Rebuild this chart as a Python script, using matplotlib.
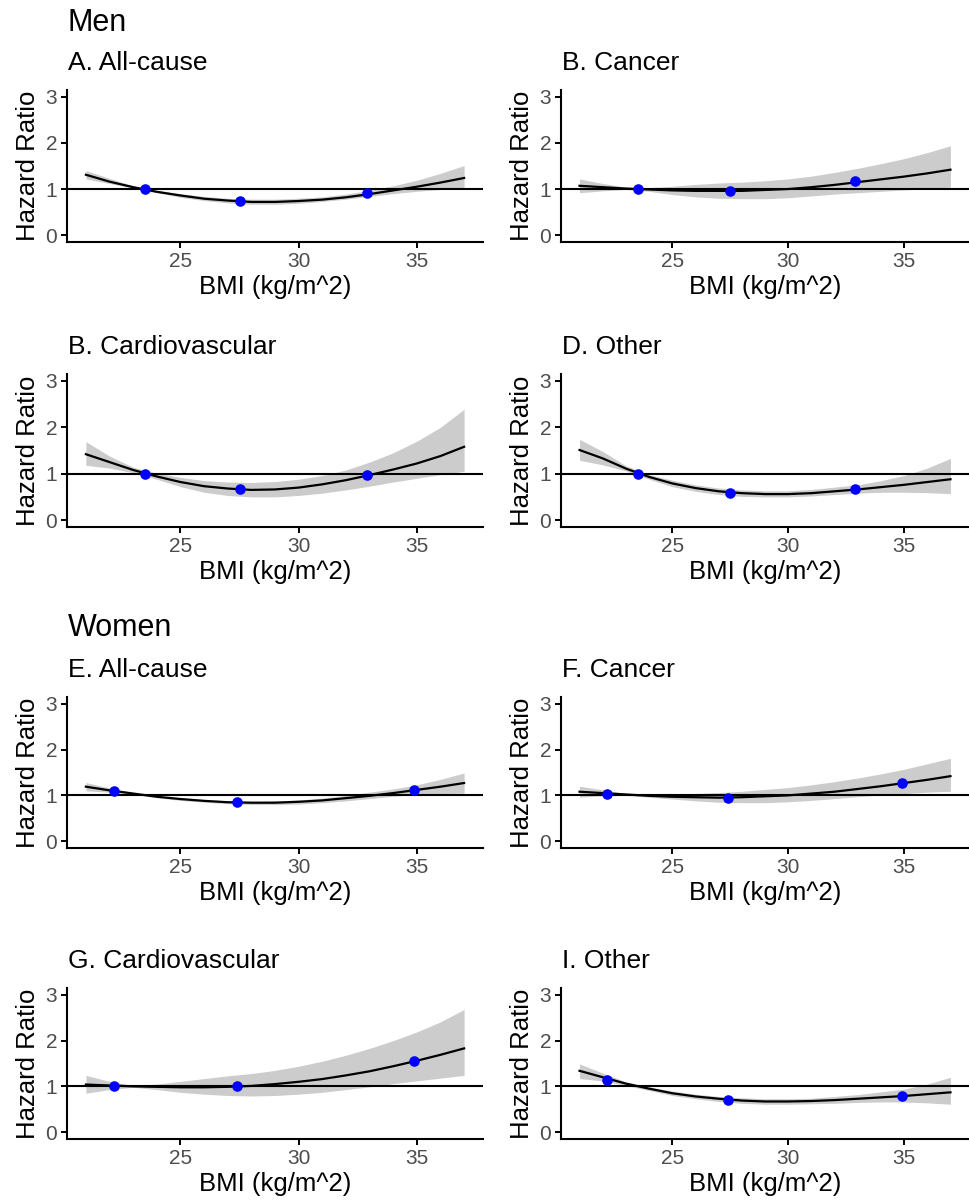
import matplotlib
matplotlib.use('Agg')
import matplotlib.pyplot as plt
import numpy as np

plt.rcParams['font.family'] = ['Liberation Sans', 'DejaVu Sans']

# BMI grid for the fitted curves
bmi = [21, 22, 23, 24, 25, 26, 27, 28, 29, 30, 31, 32, 33, 34, 35, 36, 37]

# category midpoints (blue dots)
men_pts_x = [23.5, 27.5, 32.9]
women_pts_x = [22.2, 27.4, 34.9]

# A. Men all-cause
a_hr = [1.31, 1.16, 1.04, 0.94, 0.86, 0.79, 0.75, 0.72, 0.72, 0.74, 0.77, 0.82, 0.89, 0.97, 1.05, 1.14, 1.24]
a_lo = [1.22, 1.12, 1.02, 0.92, 0.82, 0.75, 0.70, 0.67, 0.67, 0.69, 0.73, 0.78, 0.84, 0.90, 0.95, 0.99, 1.03]
a_hi = [1.40, 1.23, 1.07, 0.97, 0.90, 0.84, 0.80, 0.78, 0.78, 0.80, 0.83, 0.89, 0.97, 1.07, 1.19, 1.34, 1.51]
a_pts = [1.00, 0.73, 0.91]

# B. Men cancer
b_hr = [1.07, 1.04, 1.01, 0.99, 0.97, 0.96, 0.96, 0.96, 0.98, 1.00, 1.04, 1.09, 1.15, 1.21, 1.27, 1.34, 1.42]
b_lo = [0.92, 0.96, 0.99, 0.95, 0.88, 0.83, 0.80, 0.79, 0.79, 0.81, 0.85, 0.89, 0.92, 0.95, 0.98, 1.01, 1.04]
b_hi = [1.22, 1.12, 1.04, 1.03, 1.06, 1.10, 1.13, 1.15, 1.18, 1.22, 1.28, 1.36, 1.45, 1.55, 1.66, 1.79, 1.94]
b_pts = [1.00, 0.95, 1.17]

# C. Men cardiovascular
c_hr = [1.42, 1.25, 1.08, 0.94, 0.82, 0.73, 0.68, 0.65, 0.66, 0.70, 0.77, 0.86, 0.97, 1.09, 1.22, 1.38, 1.58]
c_lo = [1.18, 1.12, 1.02, 0.88, 0.72, 0.60, 0.53, 0.50, 0.50, 0.53, 0.58, 0.65, 0.73, 0.82, 0.90, 0.98, 1.05]
c_hi = [1.69, 1.38, 1.14, 1.01, 0.92, 0.85, 0.82, 0.81, 0.83, 0.88, 0.96, 1.08, 1.25, 1.45, 1.70, 2.00, 2.39]
c_pts = [1.00, 0.66, 0.97]

# D. Men other
d_hr = [1.51, 1.33, 1.11, 0.93, 0.79, 0.69, 0.62, 0.58, 0.56, 0.56, 0.58, 0.62, 0.66, 0.71, 0.76, 0.82, 0.88]
d_lo = [1.29, 1.19, 1.06, 0.88, 0.72, 0.62, 0.55, 0.51, 0.50, 0.50, 0.52, 0.55, 0.58, 0.60, 0.60, 0.59, 0.57]
d_hi = [1.74, 1.48, 1.17, 0.98, 0.86, 0.76, 0.69, 0.65, 0.63, 0.63, 0.66, 0.71, 0.76, 0.85, 0.96, 1.12, 1.33]
d_pts = [1.00, 0.59, 0.66]

# E. Women all-cause
e_hr = [1.19, 1.11, 1.04, 0.97, 0.92, 0.88, 0.85, 0.84, 0.84, 0.86, 0.89, 0.94, 0.99, 1.05, 1.12, 1.19, 1.27]
e_lo = [1.10, 1.07, 1.02, 0.95, 0.89, 0.85, 0.82, 0.80, 0.80, 0.81, 0.84, 0.88, 0.93, 0.98, 1.02, 1.04, 1.05]
e_hi = [1.28, 1.16, 1.06, 0.99, 0.95, 0.91, 0.88, 0.87, 0.88, 0.90, 0.94, 1.00, 1.07, 1.14, 1.23, 1.35, 1.49]
e_pts = [1.09, 0.85, 1.12]

# F. Women cancer
f_hr = [1.08, 1.05, 1.02, 0.99, 0.97, 0.96, 0.95, 0.96, 0.98, 1.00, 1.04, 1.08, 1.14, 1.20, 1.27, 1.34, 1.42]
f_lo = [0.96, 0.99, 1.00, 0.96, 0.92, 0.88, 0.85, 0.84, 0.84, 0.86, 0.89, 0.93, 0.97, 1.01, 1.04, 1.07, 1.09]
f_hi = [1.20, 1.12, 1.04, 1.02, 1.02, 1.04, 1.06, 1.09, 1.13, 1.17, 1.23, 1.30, 1.38, 1.47, 1.57, 1.69, 1.81]
f_pts = [1.04, 0.95, 1.27]

# G. Women cardiovascular
g_hr = [1.04, 1.02, 1.00, 0.99, 0.98, 0.98, 0.99, 1.01, 1.05, 1.10, 1.16, 1.24, 1.33, 1.44, 1.56, 1.69, 1.83]
g_lo = [0.85, 0.93, 0.98, 0.93, 0.87, 0.83, 0.80, 0.79, 0.80, 0.83, 0.87, 0.93, 0.99, 1.06, 1.12, 1.18, 1.24]
g_hi = [1.24, 1.11, 1.02, 1.05, 1.11, 1.17, 1.23, 1.28, 1.35, 1.44, 1.55, 1.68, 1.83, 2.00, 2.19, 2.41, 2.68]
g_pts = [1.01, 1.00, 1.55]

# I. Women other
i_hr = [1.34, 1.20, 1.06, 0.95, 0.85, 0.78, 0.73, 0.69, 0.67, 0.67, 0.68, 0.70, 0.73, 0.76, 0.79, 0.83, 0.87]
i_lo = [1.17, 1.12, 1.02, 0.91, 0.80, 0.73, 0.67, 0.63, 0.61, 0.61, 0.62, 0.63, 0.65, 0.66, 0.66, 0.64, 0.61]
i_hi = [1.49, 1.29, 1.10, 0.99, 0.90, 0.83, 0.78, 0.75, 0.73, 0.73, 0.74, 0.78, 0.82, 0.88, 0.94, 1.05, 1.20]
i_pts = [1.15, 0.70, 0.79]

titles = ['A. All-cause', 'B. Cancer', 'B. Cardiovascular', 'D. Other',
          'E. All-cause', 'F. Cancer', 'G. Cardiovascular', 'I. Other']

W, H = 969, 1202
fig = plt.figure(figsize=(W / 100, H / 100), dpi=100)

# pixel boxes (left, right) per column and (top, bottom) per row
cols = [(67, 483), (561, 969)]
rows = [(90, 242), (374, 527), (697, 848), (988, 1139)]

panels = [
    (a_hr, a_lo, a_hi, men_pts_x, a_pts),
    (b_hr, b_lo, b_hi, men_pts_x, b_pts),
    (c_hr, c_lo, c_hi, men_pts_x, c_pts),
    (d_hr, d_lo, d_hi, men_pts_x, d_pts),
    (e_hr, e_lo, e_hi, women_pts_x, e_pts),
    (f_hr, f_lo, f_hi, women_pts_x, f_pts),
    (g_hr, g_lo, g_hi, women_pts_x, g_pts),
    (i_hr, i_lo, i_hi, women_pts_x, i_pts),
]

for k, (hr, lo, hi, px, py) in enumerate(panels):
    r, c = k // 2, k % 2
    l, rr = cols[c]
    t, b = rows[r]
    ax = fig.add_axes([l / W, 1 - b / H, (rr - l) / W, (b - t) / H])
    ax.fill_between(bmi, lo, hi, color='#CCCCCC', lw=0, zorder=1)
    ax.plot(bmi, hr, color='black', lw=1.6, zorder=2)
    ax.axhline(1, color='black', lw=1.5, zorder=3)
    ax.scatter(px, py, s=58, color='#0000FF', zorder=4, linewidths=0)
    ax.set_xlim(20.2, 37.8)
    ax.set_ylim(-0.15, 3.15)
    ax.set_xticks([25, 30, 35])
    ax.set_yticks([0, 1, 2, 3])
    for s in ['top', 'right']:
        ax.spines[s].set_visible(False)
    for s in ['left', 'bottom']:
        ax.spines[s].set_linewidth(1.5)
    ax.tick_params(length=4, width=1.4, labelsize=15, labelcolor='#4D4D4D', pad=3)
    ax.set_xlabel('BMI (kg/m^2)', fontsize=18.5, labelpad=3)
    ax.set_ylabel('Hazard Ratio', fontsize=18.5, labelpad=4)
    fig.text((l + 1) / W, 1 - (t - 27) / H, titles[k], fontsize=19, va='center', ha='left')

fig.text(68 / W, 1 - 23 / H, 'Men', fontsize=22, va='center', ha='left')
fig.text(68 / W, 1 - 628 / H, 'Women', fontsize=22, va='center', ha='left')

fig.savefig('out.png', dpi=100)
